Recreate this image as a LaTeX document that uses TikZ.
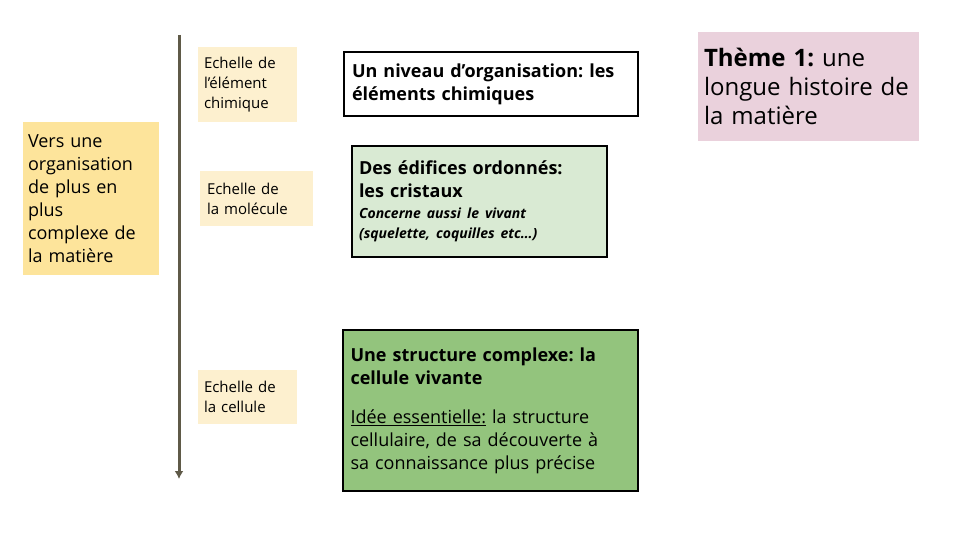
\documentclass[tikz,border=0pt]{standalone}
\usepackage{fontspec}
\setmainfont{Open Sans}
\usetikzlibrary{arrows.meta}
\frenchspacing
\begin{document}
\begin{tikzpicture}[x=1pt,y=-1pt,
  lbl/.style={fill=lblfill,inner sep=0pt,align=left,font=\fontsize{15}{20}\selectfont},
  bx/.style={draw=black,line width=2pt,inner sep=0pt,align=left},
  ]
\definecolor{lblfill}{HTML}{FDF0CF}
\definecolor{yel}{HTML}{FDE49B}
\definecolor{lg}{HTML}{D9EAD3}
\definecolor{dg}{HTML}{93C47D}
\definecolor{pk}{HTML}{EAD1DC}
\definecolor{ax}{HTML}{5F5A48}
\path[use as bounding box] (0,0) rectangle (960,540);
\coordinate (top) at (179,35);
\coordinate (bot) at (179,479);
\draw[ax,line width=3pt,-{Latex[length=8pt,width=9pt]}] (top) -- (bot);
\node[fill=yel,inner sep=0pt,minimum width=136pt,minimum height=153pt,text width=126pt,align=left,font=\fontsize{18}{23}\selectfont] (v) at (91,198.5) {Vers une\\organisation\\de plus en\\plus\\complexe de\\la matière};
\node[lbl,minimum width=99pt,minimum height=75pt,text width=87pt] (l1) at (247.5,84.5) {Echelle de\\l’élément\\chimique};
\node[lbl,minimum width=113pt,minimum height=55pt,text width=99pt] (l2) at (256.5,198.5) {Echelle de\\la molécule};
\node[lbl,minimum width=99pt,minimum height=54pt,text width=87pt] (l3) at (247.5,397) {Echelle de\\la cellule};
\node[bx,fill=white,minimum width=294pt,minimum height=64pt,text width=278pt,font=\fontsize{18}{23}\selectfont] (b1) at (491,84) {\textbf{Un niveau d’organisation: les}\\\textbf{éléments chimiques}};
\node[bx,fill=lg,minimum width=255pt,minimum height=111pt,text width=241pt,font=\fontsize{18}{23}\selectfont] (b2) at (479.5,201.5) {\textbf{Des édifices ordonnés:}\\\textbf{les cristaux}\\[-2pt]{\fontsize{14}{20}\selectfont\textbf{\textit{Concerne aussi le vivant}}}\\[-3pt]{\fontsize{14}{20}\selectfont\textbf{\textit{(squelette, coquilles etc…)}}}};
\node[bx,fill=dg,minimum width=295pt,minimum height=161pt,text width=280pt,font=\fontsize{18}{23}\selectfont] (b3) at (490.5,410.5) {\textbf{Une structure complexe: la}\\\textbf{cellule vivante}\\[16pt]\underline{Idée essentielle:} la structure\\cellulaire, de sa découverte à\\sa connaissance plus précise};
\node[fill=pk,inner sep=0pt,minimum width=221pt,minimum height=109pt,text width=209pt,align=left,font=\fontsize{24}{29}\selectfont] (t) at (808.5,86.5) {\textbf{Thème 1:} une\\longue histoire de\\la matière};
\end{tikzpicture}
\end{document}
